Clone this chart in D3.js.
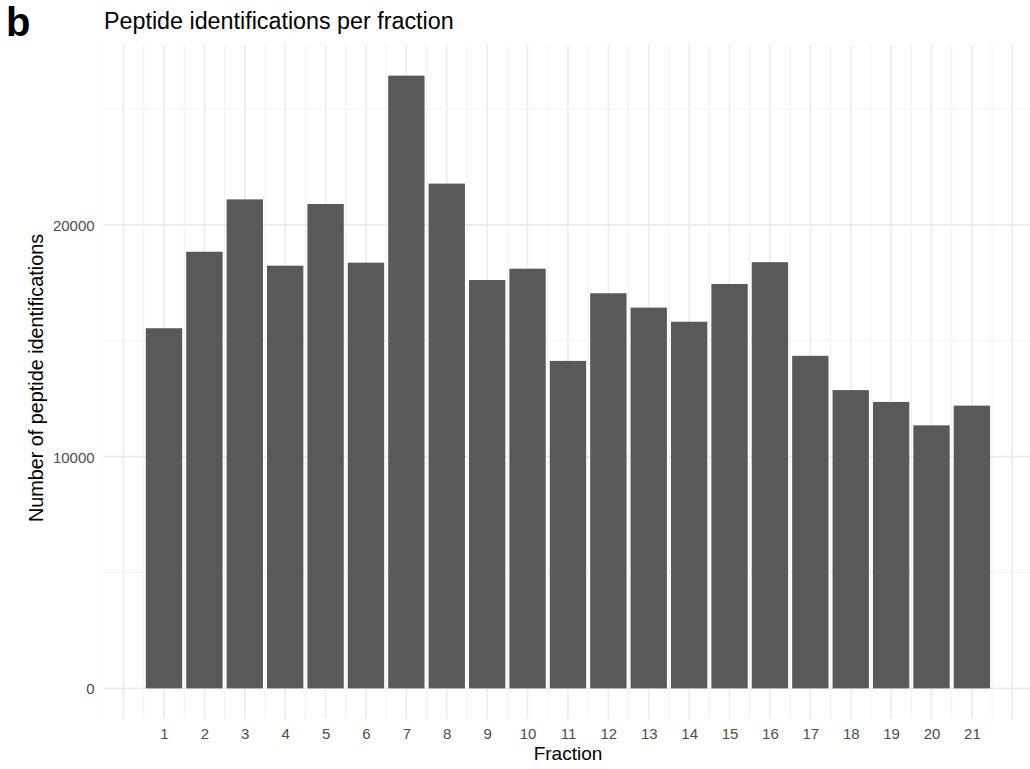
<!DOCTYPE html>
<html>
<head>
<meta charset="utf-8">
<script src="https://cdn.jsdelivr.net/npm/d3@7"></script>
<style>
  html, body { margin: 0; padding: 0; background: #fff; }
  svg { display: block; font-family: "Liberation Sans", Arial, sans-serif; }
</style>
</head>
<body>
<svg id="chart" width="1030" height="769"></svg>
<script>
const fractions = [1,2,3,4,5,6,7,8,9,10,11,12,13,14,15,16,17,18,19,20,21];
const peptideCounts = [15540,18840,21100,18240,20900,18370,26440,21780,17620,18110,14130,17050,16430,15820,17450,18390,14350,12870,12360,11350,12200];
const yTicks = [0,10000,20000];
const yMinorTicks = [5000,15000,25000];

const svg = d3.select("#chart");
const W = 1030, H = 769;
const panel = {left: 103.6, right: 1032.3, top: 45, bottom: 719};

const xlo = d3.min(fractions) - 0.45, xhi = d3.max(fractions) + 0.45;
const xpad = (xhi - xlo) * 0.05;
const x = d3.scaleLinear().domain([xlo - xpad, xhi + xpad]).range([panel.left, panel.right]);
const ymax = d3.max(peptideCounts);
const ypad = ymax * 0.05;
const y = d3.scaleLinear().domain([-ypad, ymax + ypad]).range([panel.bottom, panel.top]);

svg.append("defs").append("clipPath").attr("id","pclip")
  .append("rect").attr("x", panel.left).attr("y", panel.top)
  .attr("width", W - panel.left).attr("height", panel.bottom - panel.top);

const grid = svg.append("g").attr("clip-path","url(#pclip)");
const xMajor = d3.range(0, 23);
const xMinor = d3.range(-0.5, 23, 1);
grid.selectAll(".vminor").data(xMinor).enter().append("line")
  .attr("x1", d => x(d)).attr("x2", d => x(d))
  .attr("y1", panel.top).attr("y2", panel.bottom)
  .attr("stroke", "#f0f0f0").attr("stroke-width", 1);
grid.selectAll(".vmajor").data(xMajor).enter().append("line")
  .attr("x1", d => x(d)).attr("x2", d => x(d))
  .attr("y1", panel.top).attr("y2", panel.bottom)
  .attr("stroke", "#ebebeb").attr("stroke-width", 1.6);
grid.selectAll(".hminor").data(yMinorTicks).enter().append("line")
  .attr("x1", panel.left).attr("x2", W)
  .attr("y1", d => y(d)).attr("y2", d => y(d))
  .attr("stroke", "#f0f0f0").attr("stroke-width", 1);
grid.selectAll(".hmajor").data(yTicks).enter().append("line")
  .attr("x1", panel.left).attr("x2", W)
  .attr("y1", d => y(d)).attr("y2", d => y(d))
  .attr("stroke", "#ebebeb").attr("stroke-width", 1.6);

svg.append("g").selectAll("rect").data(fractions).enter().append("rect")
  .attr("x", (d) => x(d - 0.45))
  .attr("width", (d) => x(d + 0.45) - x(d - 0.45))
  .attr("y", (d, i) => y(peptideCounts[i]))
  .attr("height", (d, i) => y(0) - y(peptideCounts[i]))
  .attr("fill", "#595959");

const xAxis = d3.axisBottom(x).tickValues(fractions).tickSize(0).tickPadding(0).tickFormat(d3.format("d"));
const gx = svg.append("g").attr("transform", `translate(0,${panel.bottom})`).call(xAxis);
gx.select(".domain").remove();
gx.selectAll("text").attr("fill", "#4d4d4d").attr("font-size", 15)
  .attr("dy", null).attr("y", 20);

const yAxis = d3.axisLeft(y).tickValues(yTicks).tickSize(0).tickPadding(0).tickFormat(d3.format("d"));
const gy = svg.append("g").attr("transform", `translate(${panel.left - 9},0)`).call(yAxis);
gy.select(".domain").remove();
gy.selectAll("text").attr("fill", "#4d4d4d").attr("font-size", 15).attr("dy", "0.36em");

svg.append("text").attr("x", (panel.left + panel.right) / 2).attr("y", 760)
  .attr("text-anchor", "middle").attr("font-size", 19).attr("fill", "#000")
  .text("Fraction");
svg.append("text")
  .attr("transform", `translate(43,${(panel.top + panel.bottom) / 2 - 4}) rotate(-90)`)
  .attr("text-anchor", "middle").attr("font-size", 19.8).attr("fill", "#000")
  .text("Number of peptide identifications");
svg.append("text").attr("x", 104).attr("y", 29)
  .attr("font-size", 23.3).attr("fill", "#000")
  .text("Peptide identifications per fraction");
svg.append("text").attr("x", 6).attr("y", 36.3)
  .attr("font-size", 40).attr("font-weight", "bold").attr("fill", "#000")
  .text("b");
</script>
</body>
</html>
